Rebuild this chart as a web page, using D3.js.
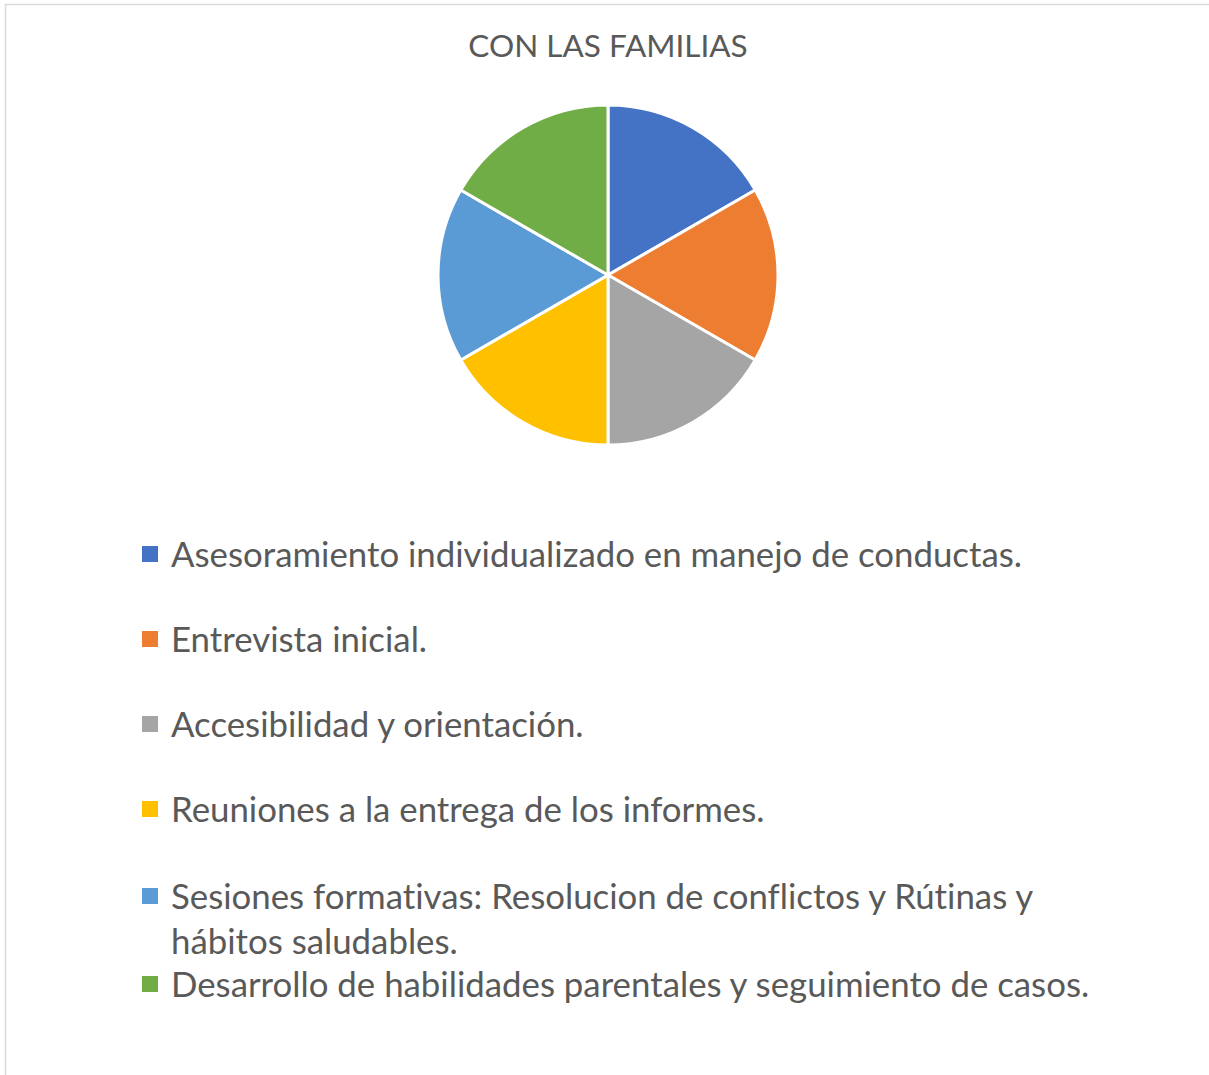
<!DOCTYPE html>
<html>
<head>
<meta charset="utf-8">
<script src="https://cdn.jsdelivr.net/npm/d3@7"></script>
<style>
  body { margin: 0; background: #fff; }
  svg { display: block; }
  text, tspan { font-variant-ligatures: none; font-feature-settings: "liga" 0, "clig" 0, "dlig" 0; }
</style>
</head>
<body>
<div id="chart"></div>
<script>
/* global d3 */

var title = "CON LAS FAMILIAS";

var categories = [
  "Asesoramiento individualizado en manejo de conductas.",
  "Entrevista inicial.",
  "Accesibilidad y orientación.",
  "Reuniones a la entrega de los informes.",
  "Sesiones formativas: Resolucion de conflictos y Rútinas y hábitos saludables.",
  "Desarrollo de habilidades parentales y seguimiento de casos."
];

// how each legend entry wraps in the original
var legendLines = [
  [ "Asesoramiento individualizado en manejo de conductas." ],
  [ "Entrevista inicial." ],
  [ "Accesibilidad y orientación." ],
  [ "Reuniones a la entrega de los informes." ],
  [ "Sesiones formativas: Resolucion de conflictos y Rútinas y", "hábitos saludables." ],
  [ "Desarrollo de habilidades parentales y seguimiento de casos." ]
];

var values = [ 1, 1, 1, 1, 1, 1 ];

var colors = [ "#4472C4", "#ED7D31", "#A5A5A5", "#FFC000", "#5B9BD5", "#70AD47" ];

var width = 1209,
  height = 1075,
  fontFamily = "Lato, 'Open Sans', sans-serif",
  textColor = "#595959";

var svg = d3.select( "#chart" ).append( "svg" )
  .attr( "width", width )
  .attr( "height", height );

// chart area border
svg.append( "rect" )
  .attr( "x", 5.5 )
  .attr( "y", 4.5 )
  .attr( "width", width + 10 )
  .attr( "height", height + 10 )
  .style( "fill", "white" )
  .style( "stroke", "#d9d9d9" )
  .style( "stroke-width", 1.5 );

svg.append( "text" )
  .attr( "x", 608 )
  .attr( "y", 57 )
  .attr( "text-anchor", "middle" )
  .style( "font-family", fontFamily )
  .style( "font-size", "31.5px" )
  .style( "fill", textColor )
  .text( title );

// Pie
var color = d3.scaleOrdinal().domain( categories ).range( colors );

var pie = d3.pie()
  .sort( null )
  .value( function( d ) { return d.value; } );

var arc = d3.arc()
  .innerRadius( 0 )
  .outerRadius( 170 );

var pieData = categories.map( function( c, i ) { return { name: c, value: values[ i ] }; } );

var gPie = svg.append( "g" )
  .attr( "transform", "translate(608,275)" );

gPie.selectAll( "path" )
  .data( pie( pieData ) )
  .enter()
  .append( "path" )
    .attr( "d", arc )
    .style( "fill", function( d ) { return color( d.data.name ); } )
    .style( "stroke", "white" )
    .style( "stroke-width", 3 )
    .style( "stroke-linejoin", "round" );

// Legend
var baselines = [ 567, 652, 737, 822, 909, 997 ];
var lineGap = 45;

var legend = svg.append( "g" ).attr( "class", "legend" );

var items = legend.selectAll( "g" )
  .data( categories )
  .enter()
  .append( "g" )
    .attr( "transform", function( d, i ) { return "translate(0," + baselines[ i ] + ")"; } );

items.append( "rect" )
  .attr( "x", 142 )
  .attr( "y", -21 )
  .attr( "width", 16 )
  .attr( "height", 16 )
  .style( "fill", function( d ) { return color( d ); } );

items.append( "text" )
  .style( "font-family", fontFamily )
  .style( "font-size", "34.8px" )
  .style( "fill", textColor )
  .selectAll( "tspan" )
  .data( function( d, i ) { return legendLines[ i ]; } )
  .enter()
  .append( "tspan" )
    .attr( "x", 171 )
    .attr( "y", function( d, j ) { return j * lineGap; } )
    .text( function( d ) { return d; } );
</script>
</body>
</html>
